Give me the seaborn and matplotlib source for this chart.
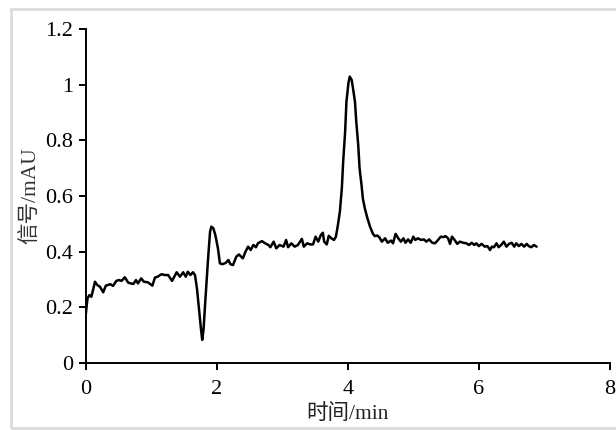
import matplotlib
matplotlib.use("Agg")
import matplotlib.pyplot as plt
from matplotlib.patches import Rectangle
import pandas as pd
import seaborn as sns

# Chromatogram trace: retention time (min) and detector signal (mAU)
time_min = [
    0.00, 0.03, 0.06, 0.09, 0.145, 0.18, 0.22, 0.27, 0.31, 0.38, 0.42, 0.47,
    0.51, 0.55, 0.60, 0.65, 0.69, 0.73, 0.77, 0.80, 0.85, 0.89, 0.95, 1.02,
    1.06, 1.10, 1.16, 1.21, 1.26, 1.32, 1.39, 1.44, 1.49, 1.53, 1.56, 1.60,
    1.64, 1.67, 1.70, 1.73, 1.76, 1.78, 1.80, 1.83, 1.87, 1.90, 1.92, 1.95,
    1.98, 2.02, 2.05, 2.09, 2.14, 2.18, 2.21, 2.25, 2.30, 2.34, 2.40, 2.44,
    2.48, 2.52, 2.56, 2.60, 2.63, 2.69, 2.74, 2.79, 2.82, 2.87, 2.91, 2.96,
    3.02, 3.06, 3.09, 3.14, 3.19, 3.24, 3.30, 3.33, 3.38, 3.43, 3.47, 3.51,
    3.55, 3.59, 3.62, 3.64, 3.68, 3.71, 3.75, 3.79, 3.82, 3.85, 3.88, 3.91,
    3.93, 3.96, 3.98, 4.01, 4.03, 4.06, 4.08, 4.11, 4.13, 4.16, 4.18, 4.21,
    4.23, 4.26, 4.30, 4.34, 4.38, 4.41, 4.45, 4.48, 4.52, 4.57, 4.61, 4.66,
    4.69, 4.73, 4.77, 4.81, 4.85, 4.88, 4.92, 4.96, 5.00, 5.03, 5.07, 5.12,
    5.16, 5.20, 5.24, 5.29, 5.33, 5.37, 5.42, 5.46, 5.49, 5.53, 5.56, 5.59,
    5.63, 5.67, 5.71, 5.76, 5.81, 5.85, 5.89, 5.93, 5.96, 6.00, 6.04, 6.09,
    6.13, 6.17, 6.20, 6.23, 6.27, 6.30, 6.34, 6.38, 6.42, 6.46, 6.50, 6.54,
    6.57, 6.61, 6.65, 6.69, 6.73, 6.76, 6.80, 6.84, 6.88,
]
signal_mau = [
    0.165, 0.232, 0.244, 0.238, 0.292, 0.280, 0.274, 0.254, 0.278, 0.283, 0.277, 0.295,
    0.298, 0.295, 0.308, 0.289, 0.286, 0.284, 0.298, 0.286, 0.304, 0.292, 0.290, 0.278,
    0.307, 0.310, 0.319, 0.316, 0.316, 0.295, 0.326, 0.310, 0.326, 0.310, 0.328, 0.316,
    0.326, 0.316, 0.268, 0.197, 0.125, 0.083, 0.119, 0.232, 0.376, 0.472, 0.490, 0.484,
    0.460, 0.412, 0.358, 0.355, 0.360, 0.370, 0.355, 0.352, 0.382, 0.390, 0.376, 0.400,
    0.418, 0.406, 0.424, 0.416, 0.430, 0.438, 0.430, 0.424, 0.416, 0.436, 0.412, 0.424,
    0.418, 0.442, 0.416, 0.430, 0.418, 0.424, 0.446, 0.418, 0.430, 0.426, 0.426, 0.454,
    0.436, 0.460, 0.468, 0.436, 0.426, 0.457, 0.448, 0.442, 0.454, 0.496, 0.544, 0.628,
    0.723, 0.831, 0.939, 1.005, 1.029, 1.017, 0.987, 0.939, 0.867, 0.783, 0.700, 0.640,
    0.592, 0.556, 0.520, 0.490, 0.466, 0.456, 0.458, 0.452, 0.436, 0.448, 0.432, 0.440,
    0.430, 0.464, 0.448, 0.436, 0.448, 0.432, 0.444, 0.432, 0.454, 0.442, 0.448, 0.442,
    0.444, 0.436, 0.444, 0.432, 0.430, 0.440, 0.454, 0.452, 0.456, 0.448, 0.428, 0.454,
    0.442, 0.428, 0.436, 0.432, 0.430, 0.424, 0.432, 0.424, 0.430, 0.420, 0.428, 0.418,
    0.420, 0.406, 0.418, 0.416, 0.430, 0.416, 0.424, 0.436, 0.418, 0.428, 0.432, 0.418,
    0.430, 0.420, 0.428, 0.418, 0.428, 0.420, 0.416, 0.424, 0.418,
]

x_ticks = [0, 2, 4, 6, 8]
y_ticks = [0, 0.2, 0.4, 0.6, 0.8, 1.0, 1.2]
y_tick_labels = ["0", "0.2", "0.4", "0.6", "0.8", "1", "1.2"]

sns.set_style("ticks")
plt.rcParams["font.family"] = ["Liberation Serif", "Noto Sans CJK SC"]
plt.rcParams["axes.unicode_minus"] = False

df = pd.DataFrame({"time": time_min, "signal": signal_mau})

fig = plt.figure(figsize=(6.16, 4.30), dpi=100)
ax = fig.add_axes([85.5 / 616, 1 - 363 / 430, (610 - 85.5) / 616, (363 - 29) / 430])

sns.lineplot(data=df, x="time", y="signal", ax=ax, color="black",
             linewidth=1.8, sort=False, estimator=None)

ax.set_xlim(0, 8)
ax.set_ylim(0, 1.2)
ax.set_xticks(x_ticks)
ax.set_xticklabels([str(v) for v in x_ticks])
ax.set_yticks(y_ticks)
ax.set_yticklabels(y_tick_labels)
ax.set_xlabel("时间/min", fontsize=15.5, color="#222222", labelpad=4)
ax.set_ylabel("信号/mAU", fontsize=15.5, color="#333333", labelpad=3)

for side in ("top", "right"):
    ax.spines[side].set_visible(False)
for side in ("left", "bottom"):
    ax.spines[side].set_linewidth(1.4)
    ax.spines[side].set_color("black")
ax.tick_params(axis="y", direction="out", length=5, width=1.4,
               labelsize=16, colors="black", pad=4)
ax.tick_params(axis="x", direction="out", length=5, width=1.4,
               labelsize=16, colors="black", pad=7)

# light border around the figure panel
fig.patches.append(Rectangle((11 / 616, 2 / 430), 1.2, 419 / 430,
                             transform=fig.transFigure, fill=False,
                             edgecolor="#dcdcdc", linewidth=2.0))

fig.savefig("out.png", dpi=100)
